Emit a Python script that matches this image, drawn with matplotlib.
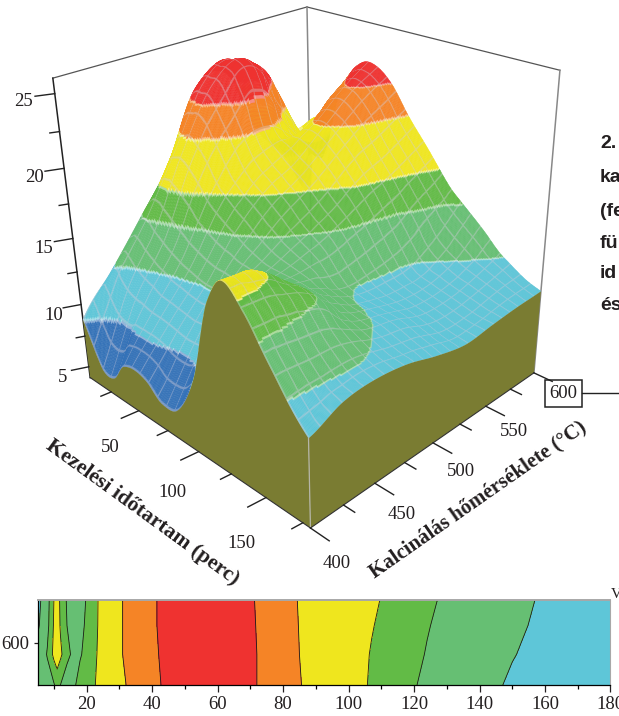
import numpy as np
import matplotlib
matplotlib.use('Agg')
import matplotlib.pyplot as plt
import matplotlib.tri as mtri
from matplotlib.patches import Rectangle
from mpl_toolkits.mplot3d.art3d import Poly3DCollection

plt.rcParams['font.family'] = ['Liberation Serif', 'DejaVu Serif']

W, H = 619, 716

# surface: rows are temperature, columns are time
time_vals = [5, 10, 15, 20, 30, 40, 50, 60, 72, 85, 100, 115, 125, 140, 155, 170, 180]
temp_vals = [400, 425, 450, 475, 500, 525, 550, 575, 600]
z_400 = [8.8, 7.6, 6.4, 5.5, 5.5, 7.0, 7.3, 7.0, 6.0, 6.3, 9.5, 15.8, 17.6, 16.3, 13.9, 11.6, 10.4]
z_425 = [11.6, 12.0, 11.3, 10.8, 10.4, 10.1, 10.0, 9.8, 9.6, 10.0, 12.6, 16.4, 17.1, 16.0, 13.6, 11.9, 11.4]
z_450 = [14.6, 15.0, 14.9, 14.4, 13.6, 13.0, 12.6, 12.3, 12.3, 12.6, 13.4, 14.6, 15.2, 15.0, 13.2, 12.0, 11.6]
z_475 = [17.8, 18.8, 19.1, 19.2, 18.3, 16.8, 15.9, 15.2, 14.4, 13.8, 13.6, 13.4, 13.2, 12.6, 12.1, 11.5, 11.3]
z_500 = [22.5, 23.0, 23.0, 23.0, 21.5, 19.6, 18.0, 17.2, 16.2, 15.0, 14.0, 12.4, 12.0, 11.8, 11.6, 11.0, 10.6]
z_525 = [23.0, 24.0, 24.2, 24.4, 23.5, 20.2, 19.0, 18.3, 17.5, 16.2, 14.8, 12.6, 11.7, 11.2, 10.8, 10.3, 10.1]
z_550 = [18.0, 20.0, 22.5, 22.0, 19.5, 18.6, 19.8, 20.0, 19.2, 17.8, 15.8, 13.2, 11.8, 11.2, 10.8, 10.4, 10.3]
z_575 = [15.0, 17.5, 17.2, 17.0, 17.2, 20.0, 21.5, 21.8, 20.8, 18.8, 16.8, 14.6, 13.0, 11.9, 11.3, 10.8, 10.5]
z_600 = [11.0, 17.5, 14.5, 15.5, 19.8, 21.9, 23.0, 23.0, 22.0, 20.0, 18.0, 15.9, 14.9, 13.5, 12.0, 11.0, 10.6]

levels = [4, 8.8, 12, 14.8, 16.8, 20, 22, 27]
band_colors = ['#3472b8', '#5ec6d8', '#66bf73', '#62bb46', '#efe61e', '#f58426', '#ef3230']
wall_color = '#7a7c32'

z_ticks = [5, 10, 15, 20, 25]
z_minor = [7.5, 12.5, 17.5, 22.5]
time_ticks = [50, 100, 150]
time_minor = [25, 75, 125, 175]
temp_ticks = [400, 450, 500, 550]
temp_minor = [425, 475, 525, 575]

# contour strip at 600 C
strip_t = [5, 6, 8, 10, 11, 12, 14, 16, 18, 21, 24, 31, 42, 57, 72, 85, 107, 124, 150, 180]
strip_y = [0, 0.36, 0.7, 1]
strip_0 = [13, 13, 13.5, 14.6, 15.5, 14.8, 13.3, 14.4, 15.6, 16.3, 17.2, 19.8, 21.9, 24, 22, 20.1, 16.6, 14.4, 11.7, 9.5]
strip_1 = [13, 13.3, 15, 17.3, 18, 17.2, 15.5, 14.2, 14.6, 15.8, 17.2, 20, 22, 24, 22, 20, 16.7, 14.7, 12.1, 9.8]
strip_2 = [11.5, 12.4, 14.2, 17, 18, 16.6, 14.8, 13.4, 14.2, 15.6, 17.1, 20, 22.1, 24, 21.95, 19.95, 16.9, 14.9, 12.4, 9.9]
strip_3 = [10.5, 12, 14, 16.8, 18, 16.4, 14.6, 12.6, 14, 15.4, 17.1, 20, 22.1, 24, 21.9, 19.9, 17.1, 15.1, 12.6, 10]

Z0, Z1 = 4.1, 26.0


def fit_camera(ax):
    """
    Fit a projective camera to where the box corners and ticks sit in the picture.
    :param ax: the 3d axes
    :return: 4x4 matrix in the form mplot3d expects
    """
    world = np.array([
        (5, 400, Z0), (5, 400, Z1), (180, 400, Z0), (180, 600, Z0), (180, 600, Z1), (5, 600, Z1),
        (5, 400, 5), (5, 400, 10), (5, 400, 15), (5, 400, 20), (5, 400, 25),
        (50, 400, Z0), (100, 400, Z0), (150, 400, Z0),
        (180, 450, Z0), (180, 500, Z0), (180, 550, Z0),
    ], dtype=float)
    pix = np.array([
        (90, 377), (53, 78), (310, 527), (533, 373), (560, 70), (307, 7),
        (89, 366), (82, 304), (73, 238), (63, 169), (55, 94),
        (138, 412), (199, 453), (266, 498),
        (375, 483), (433, 442), (487, 407),
    ], dtype=float)
    S = np.array([[1 / 88, 0, 0, -92 / 88], [0, 1 / 100, 0, -5], [0, 0, 1 / 11, -15 / 11], [0, 0, 0, 1]])
    N = np.array([[1 / 300, 0, -310 / 300], [0, 1 / 300, -1], [0, 0, 1]])
    w4 = (S @ np.c_[world, np.ones(len(world))].T).T
    p3 = (N @ np.c_[pix, np.ones(len(pix))].T).T
    rows = []
    for X, (u, v, _) in zip(w4, p3):
        rows.append(np.r_[X, np.zeros(4), -u * X])
        rows.append(np.r_[np.zeros(4), X, -v * X])
    P = np.linalg.svd(np.array(rows))[2][-1].reshape(3, 4)
    P = np.linalg.inv(N) @ P @ S
    if (P[2] @ np.array([92, 500, 15, 1])) < 0:
        P = -P

    # picture pixels -> the 2d coordinates of the axes
    ax.apply_aspect()
    inv = ax.transData.inverted()
    o = inv.transform((0, H))
    ex = inv.transform((1, H)) - o
    ey = inv.transform((0, H - 1)) - o
    A = np.array([[ex[0], ey[0], o[0]], [ex[1], ey[1], o[1]], [0, 0, 1]])
    P2 = A @ P
    return np.array([P2[0], P2[1], [0, 0, 0, -1], P2[2]])


def fine_surface():
    """
    Refine the table of read values with matplotlib's tri interpolator for drawing.
    :return: fine time values, fine temp values, heights
    """
    table = np.array([z_400, z_425, z_450, z_475, z_500, z_525, z_550, z_575, z_600])
    tt, pp = np.meshgrid(time_vals, temp_vals)
    tri = mtri.Triangulation(tt.ravel().astype(float), pp.ravel().astype(float))
    interp = mtri.CubicTriInterpolator(tri, table.ravel(), kind='geom')
    ft = np.linspace(5.001, 179.999, 301)
    fp = np.linspace(400.001, 599.999, 251)
    ftt, fpp = np.meshgrid(ft, fp)
    fz = np.ma.filled(interp(ftt, fpp), np.nan)
    return ft, fp, np.clip(fz, Z0 + 0.3, Z1)


def blend(rgb, other, a):
    return rgb * (1 - a) + np.array(other) * a


fig = plt.figure(figsize=(W / 100, H / 100), dpi=100)
ax = fig.add_axes([(W - H) / 2 / W, 0, H / W, 1], projection='3d', computed_zorder=False)
ax.set_axis_off()
cam = fit_camera(ax)
ax.get_proj = lambda: cam

# back box
for a, b, c, lw in [((5, 400, Z1), (5, 600, Z1), '#555555', 0.9), ((5, 600, Z1), (180, 600, Z1), '#555555', 0.9),
                    ((5, 600, Z0), (5, 600, Z1), '#888888', 1.1), ((180, 600, Z0), (180, 600, Z1), '#888888', 1.1)]:
    ax.plot(*zip(a, b), color=c, lw=lw, zorder=1)

# surface with colour bands, mesh lines sit in the faces so they get hidden properly
ft, fp, fz = fine_surface()
cell_z = (fz[:-1, :-1] + fz[1:, :-1] + fz[:-1, 1:] + fz[1:, 1:]) / 4
band = np.clip(np.digitize(cell_z, levels) - 1, 0, len(band_colors) - 1)
rgb = np.array([matplotlib.colors.to_rgb(c) for c in band_colors])[band]

is_mesh = np.zeros(band.shape, dtype=bool)
is_mesh[:, ::12] = True
is_mesh[::10, :] = True
rgb[is_mesh] = blend(rgb[is_mesh], (0.82, 0.79, 0.85), 0.4)

is_edge = np.zeros(band.shape, dtype=bool)
is_edge[:-1, :] |= band[:-1, :] != band[1:, :]
is_edge[:, :-1] |= band[:, :-1] != band[:, 1:]
rgb[is_edge] = blend(rgb[is_edge], (1, 1, 1), 0.45)

verts = []
for i in range(len(fp) - 1):
    for j in range(len(ft) - 1):
        verts.append([(ft[j], fp[i], fz[i, j]), (ft[j + 1], fp[i], fz[i, j + 1]),
                      (ft[j + 1], fp[i + 1], fz[i + 1, j + 1]), (ft[j], fp[i + 1], fz[i + 1, j])])
colors = rgb.reshape(-1, 3)
surf = Poly3DCollection(verts, facecolors=colors, edgecolors=colors, linewidths=0.25, zorder=2)
ax.add_collection3d(surf)

# the two front walls
wall_a = [(t, 400, z) for t, z in zip(ft, fz[0])] + [(180, 400, Z0), (5, 400, Z0)]
wall_b = [(180, p, z) for p, z in zip(fp, fz[:, -1])] + [(180, 600, Z0), (180, 400, Z0)]
ax.add_collection3d(Poly3DCollection([wall_a, wall_b], facecolors=wall_color, edgecolors='none', zorder=3))
ax.plot([180, 180], [400, 400], [Z0, z_400[-1]], color='#b5b5a8', lw=0.9, zorder=4)

# axis lines and ticks
ax.plot([5, 5], [400, 400], [Z0, Z1], color='#222222', lw=1.1, zorder=1)
ax.plot([5, 180], [400, 400], [Z0, Z0], color='#333333', lw=0.8, zorder=4)
ax.plot([180, 180], [400, 600], [Z0, Z0], color='#333333', lw=0.8, zorder=4)
for zt, k in [(z_ticks, 1.0), (z_minor, 0.5)]:
    for z in zt:
        ax.plot([5, 5 - 4 * k], [400, 400 - 10 * k], [z, z], color='#222222', lw=1.0, zorder=4)
for tt, k in [(time_ticks, 1.0), (time_minor, 0.6)]:
    for t in tt:
        ax.plot([t, t - 1.2 * k], [400, 400 - 12 * k], [Z0, Z0], color='#222222', lw=1.0, zorder=4)
for pt, k in [(temp_ticks, 1.0), (temp_minor, 0.6)]:
    for p in pt:
        ax.plot([180, 180 + 12 * k], [p, p], [Z0, Z0], color='#222222', lw=1.0, zorder=4)
ax.plot([180, 192], [600, 600], [Z0, Z0], color='#222222', lw=1.0, zorder=4)

for z in z_ticks:
    ax.text(5 - 1.4, 400 - 19, z, str(z), fontsize=13.5, color='#231f20', ha='center', va='center', zorder=5)
for t in time_ticks:
    ax.text(t + 15, 400 - 33, Z0, str(t), fontsize=13.5, color='#231f20', ha='center', va='center', zorder=5)
for p in temp_ticks:
    ax.text(180 + 24, p - 9, Z0, str(p), fontsize=13.5, color='#231f20', ha='center', va='center', zorder=5)

# contour strip
strip = fig.add_axes([37.5 / W, 1 - 685 / H, (610.5 - 37.5) / W, 85 / H])
strip_z = np.array([strip_0, strip_1, strip_2, strip_3])
strip.contourf(strip_t, strip_y, strip_z, levels=levels, colors=band_colors)
strip.contour(strip_t, strip_y, strip_z, levels=levels[1:-1], colors='#1a1a1a', linewidths=0.6)
strip.set_xlim(5, 180)
strip.set_ylim(0, 1)
strip.set_xticks(range(20, 181, 20))
strip.set_xticks(range(10, 181, 20), minor=True)
strip.set_yticks([0.5])
strip.set_yticklabels(['600'])
strip.tick_params(axis='both', which='major', labelsize=13.5, length=5, width=0.9, pad=3, colors='#231f20')
strip.tick_params(axis='x', which='minor', length=3, width=0.9)
strip.tick_params(axis='y', length=3, pad=3)
strip.spines['top'].set_color('#a8a8a8')
strip.spines['top'].set_linewidth(1.4)
strip.spines['right'].set_color('#a8a8a8')
strip.spines['left'].set_linewidth(0.9)
strip.spines['bottom'].set_linewidth(0.9)

# everything that is placed by picture position
ov = fig.add_axes([0, 0, 1, 1])
ov.set_xlim(0, W)
ov.set_ylim(H, 0)
ov.axis('off')
ov.text(142, 513, 'Kezelési időtartam (perc)', fontsize=15.6, fontweight='bold', rotation=-36,
        ha='center', va='center', rotation_mode='anchor', color='#231f20')
ov.text(478, 500, 'Kalcinálás hőmérséklete (°C)', fontsize=15, fontweight='bold', rotation=35,
        ha='center', va='center', rotation_mode='anchor', color='#231f20')
ov.add_patch(Rectangle((545, 380), 37, 27, fill=False, edgecolor='#222222', lw=1.1))
ov.text(563.5, 394, '600', fontsize=13.5, ha='center', va='center', color='#231f20')
ov.plot([582, 619], [393, 393], color='#222222', lw=1.0)
for y, s in zip([143, 178, 211, 243, 274, 306], ['2.', 'ka', '(fe', 'fü', 'id', 'és']):
    ov.text(600, y, s, fontsize=14, fontweight='bold', family='Liberation Sans', ha='left', va='center',
            color='#231f20')
ov.text(611, 598, 'V', fontsize=11, color='#231f20', ha='left', va='baseline')

fig.savefig('out.png', dpi=100)
